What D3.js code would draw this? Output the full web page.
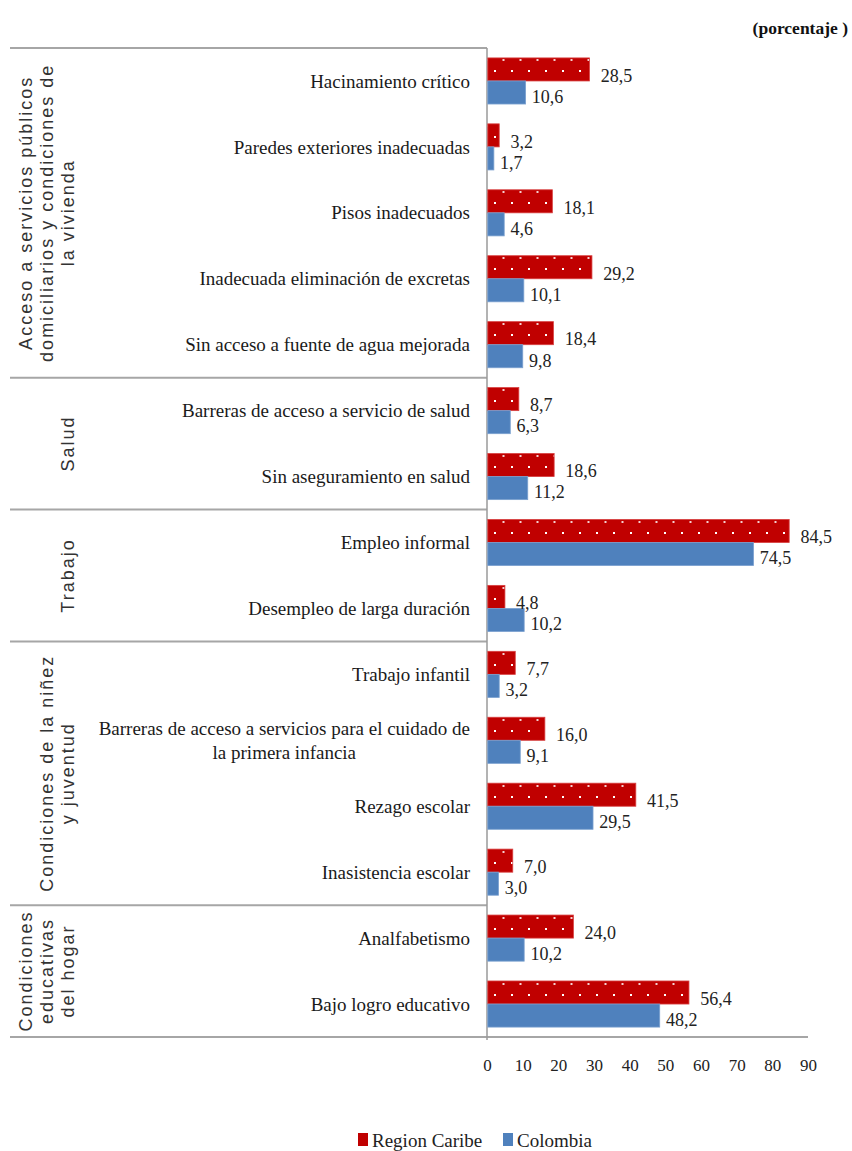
<!DOCTYPE html>
<html><head><meta charset="utf-8">
<script src="https://cdn.jsdelivr.net/npm/d3@7"></script>
<style>
html,body{margin:0;padding:0;background:#fff;}
svg{display:block;}
</style></head>
<body>
<svg id="chart" width="852" height="1151"></svg>
<script>
// ---------- DATA ----------
const categories = [
  "Hacinamiento crítico",
  "Paredes exteriores inadecuadas",
  "Pisos inadecuados",
  "Inadecuada eliminación de excretas",
  "Sin acceso a fuente de agua mejorada",
  "Barreras de acceso a servicio de salud",
  "Sin aseguramiento en salud",
  "Empleo informal",
  "Desempleo de larga duración",
  "Trabajo infantil",
  "Barreras de acceso a servicios para el cuidado de|la primera infancia",
  "Rezago escolar",
  "Inasistencia escolar",
  "Analfabetismo",
  "Bajo logro educativo"
];
const regionCaribe = [28.5, 3.2, 18.1, 29.2, 18.4, 8.7, 18.6, 84.5, 4.8, 7.7, 16.0, 41.5, 7.0, 24.0, 56.4];
const colombia     = [10.6, 1.7, 4.6, 10.1, 9.8, 6.3, 11.2, 74.5, 10.2, 3.2, 9.1, 29.5, 3.0, 10.2, 48.2];
const seriesNames = ["Region Caribe", "Colombia"];
const groupNames = [
  ["Acceso a servicios públicos", "domiciliarios y condiciones de", "la vivienda"],
  ["Salud"],
  ["Trabajo"],
  ["Condiciones de la niñez", "y juventud"],
  ["Condiciones", "educativas", "del hogar"]
];
const groupSizes = [5, 2, 2, 4, 2];
const xTicks = [0, 10, 20, 30, 40, 50, 60, 70, 80, 90];
const unitLabel = "(porcentaje )";

// ---------- SETUP ----------
const RED = "#C00000", BLUE = "#4F81BD";
const svg = d3.select("#chart");
const serif = "'Liberation Serif','Times New Roman',serif";
const sans = "'Liberation Sans',Arial,sans-serif";

const x = d3.scaleLinear().domain([0, 90]).range([487, 808]);
const y = d3.scaleBand().domain(d3.range(categories.length)).range([48, 1037]).paddingInner(0).paddingOuter(0);
const ys = d3.scaleBand().domain(seriesNames).range([0, y.bandwidth()]).paddingInner(0).paddingOuter(0.43);

const loc = d3.formatLocale({decimal: ",", thousands: ".", grouping: [3], currency: ["$", ""]});
const fmt = loc.format(".1f");

const data = categories.map((c, i) => ({i, c, vals: [regionCaribe[i], colombia[i]]}));

// dotted pattern for red bars
const defs = svg.append("defs");
const pat = defs.append("pattern").attr("id", "dots")
  .attr("patternUnits", "userSpaceOnUse")
  .attr("x", x(0) + 2).attr("y", 0)
  .attr("width", 17).attr("height", 22);
pat.append("rect").attr("width", 17).attr("height", 22).attr("fill", RED);
pat.append("rect").attr("x", 5).attr("y", 4).attr("width", 2).attr("height", 2).attr("fill", "#fff");
pat.append("rect").attr("x", 13.5).attr("y", 15).attr("width", 2).attr("height", 2).attr("fill", "#f4d0d0");

// ---------- GROUP SEPARATORS ----------
const bounds = [0];
groupSizes.forEach((s, k) => bounds.push(bounds[k] + s));
const by = d => d === 0 ? y.range()[0] : (d === categories.length ? y.range()[1] : y(d));
svg.append("g").selectAll("line").data(bounds).join("line")
  .attr("x1", 10).attr("x2", d => d === categories.length ? 808 : x(0))
  .attr("y1", by).attr("y2", by)
  .attr("stroke", "#a6a6a6").attr("stroke-width", 2);

// vertical axis line
svg.append("line").attr("x1", x(0)).attr("x2", x(0))
  .attr("y1", y.range()[0]).attr("y2", y.range()[1] + 3)
  .attr("stroke", "#9a9a9a").attr("stroke-width", 1.5);

// ---------- BARS ----------
const rows = svg.append("g").selectAll("g").data(data).join("g");
rows.selectAll("rect").data(d => d.vals.map((v, k) => ({i: d.i, v, k}))).join("rect")
  .attr("x", x(0) + 0.8)
  .attr("y", d => y(d.i) + ys(seriesNames[d.k]))
  .attr("width", d => x(d.v) - x(0))
  .attr("height", ys.bandwidth())
  .attr("fill", d => d.k === 0 ? "url(#dots)" : BLUE)
  .attr("stroke", d => d.k === 0 ? "#d84040" : "#7aa0cf")
  .attr("stroke-width", 0.8);

// value labels
rows.selectAll("text.val").data(d => d.vals.map((v, k) => ({i: d.i, v, k}))).join("text")
  .attr("class", "val")
  .attr("x", d => x(d.v) + (d.k === 0 ? 12 : 7))
  .attr("y", d => y(d.i) + ys(seriesNames[d.k]) + ys.bandwidth() / 2 + (d.k === 0 ? 6 : 4))
  .attr("dy", "0.35em")
  .attr("font-family", serif).attr("font-size", 18).attr("fill", "#222")
  .text(d => fmt(d.v));

// ---------- CATEGORY LABELS ----------
const catG = svg.append("g");
data.forEach(d => {
  const lines = d.c.split("|");
  const cy = y(d.i) + y.bandwidth() / 2;
  const lh = 24;
  const texts = lines.map((ln, k) => catG.append("text")
    .attr("y", cy + (k - (lines.length - 1) / 2) * lh)
    .attr("dy", "0.35em")
    .attr("font-family", serif).attr("font-size", 19).attr("fill", "#1a1a1a")
    .text(ln));
  if (lines.length === 1) {
    texts[0].attr("x", 470).attr("text-anchor", "end");
  } else {
    const w = d3.max(texts, t => t.node().getComputedTextLength());
    texts.forEach(t => t.attr("x", 470 - w / 2).attr("text-anchor", "middle"));
  }
});

// ---------- GROUP LABELS ----------
const gG = svg.append("g");
groupNames.forEach((lines, g) => {
  const cy = (by(bounds[g]) + by(bounds[g + 1])) / 2;
  const lh = 21;
  const lastX = 74;
  const t = gG.append("text")
    .attr("transform", `translate(${lastX},${cy}) rotate(-90)`)
    .attr("text-anchor", "middle")
    .attr("font-family", sans).attr("font-size", 18).attr("letter-spacing", 2)
    .attr("fill", "#333");
  lines.forEach((ln, k) => {
    t.append("tspan").attr("x", 0).attr("y", (k - (lines.length - 1)) * lh).text(ln);
  });
});

// ---------- X AXIS ----------
const axisG = svg.append("g").attr("transform", `translate(0,${y.range()[1]})`)
  .call(d3.axisBottom(x).tickValues(xTicks).tickSize(0).tickPadding(22).tickFormat(d3.format("d")));
axisG.select(".domain").remove();
axisG.selectAll("text").attr("font-family", serif).attr("font-size", 17).attr("fill", "#222");

// ---------- TITLE / UNIT ----------
svg.append("text").attr("x", 848).attr("y", 28).attr("dy", "0.35em")
  .attr("text-anchor", "end").attr("font-family", serif).attr("font-weight", "bold")
  .attr("font-size", 17.5).attr("fill", "#111").text(unitLabel);

// ---------- LEGEND ----------
const legend = svg.append("g").attr("transform", "translate(358,1140)");
const legX = [0, 145];
seriesNames.forEach((s, k) => {
  const g = legend.append("g").attr("transform", `translate(${legX[k]},0)`);
  g.append("rect").attr("x", 0).attr("y", -7).attr("width", 10).attr("height", 13)
    .attr("fill", k === 0 ? RED : BLUE);
  g.append("text").attr("x", 14).attr("y", 0).attr("dy", "0.35em")
    .attr("font-family", serif).attr("font-size", 19).attr("fill", "#222").text(s);
});
</script>
</body></html>
